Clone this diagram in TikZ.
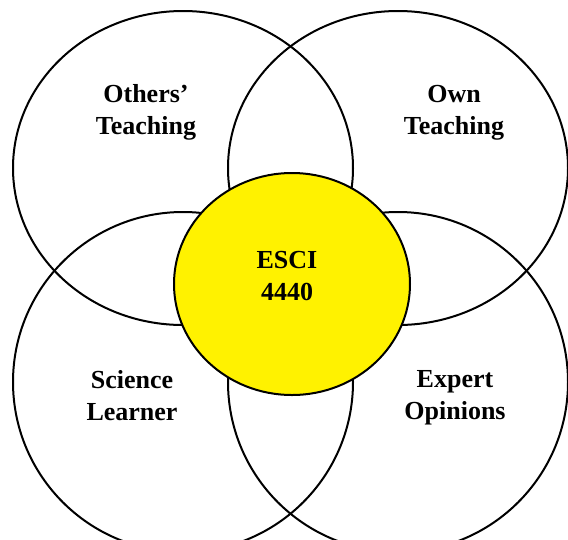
\documentclass[tikz,border=0pt]{standalone}
\usepackage{fontspec}
\setmainfont{Liberation Serif}
\usetikzlibrary{shapes.geometric}

\begin{document}
\begin{tikzpicture}[x=1pt, y=-1pt, line width=2pt,
    ring/.style={draw, ellipse, inner sep=0pt, minimum width=340pt},
    label/.style={align=center, inner sep=0pt, font=\fontsize{26}{32}\selectfont\bfseries}]
  \useasboundingbox (0,0) rectangle (568,539);
  \clip (0,0) rectangle (568,539);
  % the four overlapping circles
  \node[ring, minimum height=314pt] (others) at (183,168) {};
  \node[ring, minimum height=314pt] (own) at (398,168) {};
  \node[ring, minimum height=340pt] (learner) at (183,382) {};
  \node[ring, minimum height=340pt] (expert) at (398,382) {};
  % course in the middle
  \node[ring, fill=yellow, minimum width=236pt, minimum height=222pt] (course) at (292,284) {};
  \node[label] (otherslabel) at (146,112) {Others’\\Teaching};
  \node[label] (ownlabel) at (454,113) {Own\\Teaching};
  \node[label] (courselabel) at (287,276) {ESCI\\4440};
  \node[label] (learnerlabel) at (132,396) {Science\\Learner};
  \node[label] (expertlabel) at (455,398) {Expert\\Opinions};
\end{tikzpicture}
\end{document}
